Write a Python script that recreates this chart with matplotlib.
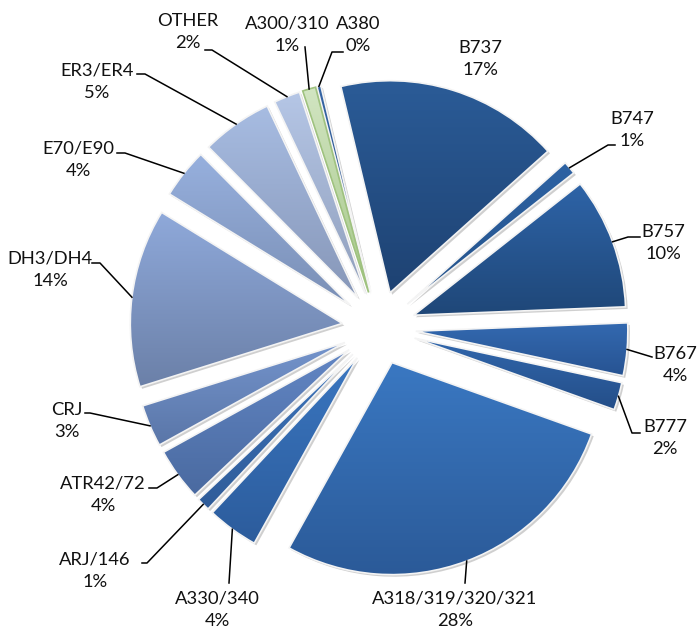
import numpy as np
import matplotlib
matplotlib.use('Agg')
import matplotlib.pyplot as plt
import matplotlib.patches as mpatches
import matplotlib.patheffects as pe
from matplotlib.colors import to_rgb

# aircraft types, clockwise from the top
types = ['A380', 'B737', 'B747', 'B757', 'B767', 'B777', 'A318/319/320/321',
         'A330/340', 'ARJ/146', 'ATR42/72', 'CRJ', 'DH3/DH4', 'E70/E90',
         'ER3/ER4', 'OTHER', 'A300/310']
share = [0.3, 17.1, 1.0, 10.0, 4.0, 2.1, 27.6, 3.9, 1.0, 4.0, 3.2, 13.6, 3.8,
         5.4, 2.0, 1.0]

# gradient colours (top, bottom) for each slice
top_col = ['#3565a5', '#2b5c98', '#2d62a3', '#2e64a8', '#3369b0', '#3167ad',
           '#3a78c2', '#3a76c0', '#3d74bb', '#6286c4', '#7494cc', '#8fa9da',
           '#97b0de', '#a7bce2', '#b5c6e6', '#d2e5c2']
bot_col = ['#264d85', '#1e4272', '#24528a', '#1f4778', '#275392', '#244e88',
           '#2b5a98', '#2c5c9c', '#2f5c99', '#4a6aa0', '#5a76a8', '#6b80a8',
           '#7a8fb5', '#8797b8', '#909fbc', '#a6c88a']

W, H = 699, 637


def px(x, y):
    return (x, H - y)


# label block centre and leader elbow points (pixel coords from top-left)
label_pos = {
    'A380': ((358, 35), [(332, 52), (343, 52)]),
    'B737': ((480, 59), None),
    'B747': ((632, 130), [(608, 145), (615, 145)]),
    'B757': ((663, 243), [(628, 237), (640, 237)]),
    'B767': ((675, 365), [(652, 357)]),
    'B777': ((665, 438), [(632, 433), (640, 433)]),
    'A318/319/320/321': ((455, 610), [(465, 583)]),
    'A330/340': ((217, 610), [(229, 583)]),
    'ARJ/146': ((95, 571), [(147, 563), (142, 563)]),
    'ATR42/72': ((103, 495), [(157, 488), (149, 488)]),
    'CRJ': ((67, 421), [(90, 413), (85, 413)]),
    'DH3/DH4': ((50, 270), [(100, 263), (92, 263)]),
    'E70/E90': ((78, 160), [(125, 153), (117, 153)]),
    'ER3/ER4': ((97, 82), [(145, 74), (137, 74)]),
    'OTHER': ((188, 32), [(212, 50), (205, 50)]),
    'A300/310': ((287, 35), [(305, 47)]),
}

fig = plt.figure(figsize=(W / 100, H / 100), dpi=100)
ax = fig.add_axes([0, 0, 1, 1])

radius = 212
gap = 37
wedges, _ = ax.pie(share, startangle=104.5, counterclock=False,
                   center=px(379, 328), radius=radius,
                   explode=[gap] * len(share), colors=bot_col,
                   wedgeprops=dict(linewidth=0))

grad = np.linspace(0, 1, 256)
for w, c1, c2 in zip(wedges, top_col, bot_col):
    w.set_path_effects([pe.SimplePatchShadow(offset=(1.5, -1.5), shadow_rgbFace='#777777', alpha=0.35),
                        pe.Normal()])
    verts = w.get_patch_transform().transform(w.get_path().vertices)
    x0, y0 = verts.min(axis=0)
    x1, y1 = verts.max(axis=0)
    c1 = np.array(to_rgb(c1))
    c2 = np.array(to_rgb(c2))
    img = (c2[None, :] * (1 - grad[:, None]) + c1[None, :] * grad[:, None])[:, None, :]
    im = ax.imshow(img, extent=[x0, x1, y0, y1], origin='lower', aspect='auto',
                   interpolation='bilinear', zorder=2)
    im.set_clip_path(w)
    edge = '#9fc27f' if c1[1] > 0.85 else '#f4f4f4'
    ax.add_patch(mpatches.Wedge(w.center, w.r, w.theta1, w.theta2, fc='none',
                                ec=edge, lw=1.2, zorder=3))

for w, name, v in zip(wedges, types, share):
    (tx, ty), elbow = label_pos[name]
    ax.text(*px(tx, ty), f'{name}\n{round(v):.0f}%', ha='center', va='center',
            fontsize=13.2, family='Lato', linespacing=1.5, color='#111111', zorder=5)
    if elbow:
        tm = np.deg2rad((w.theta1 + w.theta2) / 2)
        ax_ = w.center[0] + w.r * np.cos(tm)
        ay_ = w.center[1] + w.r * np.sin(tm)
        pts = [(ax_, ay_)] + [px(x, y) for x, y in elbow]
        xs, ys = zip(*pts)
        ax.plot(xs, ys, color='black', lw=1.1, zorder=4)

ax.set_xlim(0, W)
ax.set_ylim(0, H)
ax.set_aspect('equal')
ax.axis('off')
fig.savefig('out.png', dpi=100, facecolor='white')
